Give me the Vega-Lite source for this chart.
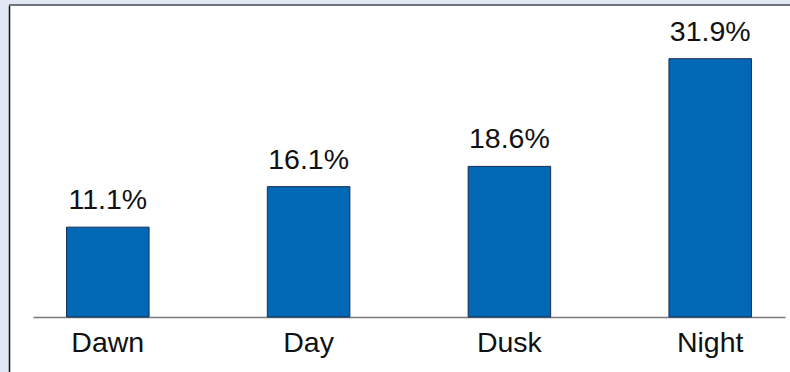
{
  "$schema": "https://vega.github.io/schema/vega-lite/v6.json",
  "autosize": "none",
  "width": 781,
  "height": 367,
  "padding": {"left": 9, "top": 5, "right": 0, "bottom": 0},
  "background": "#e1e7f3",
  "config": {
    "view": {"fill": "white", "stroke": null},
    "font": "Liberation Sans"
  },
  "data": {
    "values": [
      {"period": "Dawn", "share": 11.1},
      {"period": "Day", "share": 16.1},
      {"period": "Dusk", "share": 18.6},
      {"period": "Night", "share": 31.9}
    ]
  },
  "transform": [
    {"calculate": "format(datum.share, '.1f') + '%'", "as": "label"}
  ],
  "encoding": {
    "x": {
      "field": "period",
      "type": "nominal",
      "sort": null,
      "scale": {"range": [24, 776], "paddingInner": 0.589, "paddingOuter": 0.167},
      "axis": {
        "title": null,
        "orient": "bottom",
        "offset": -55,
        "ticks": false,
        "domainColor": "#7a7a7a",
        "domainWidth": 1.5,
        "labelFontSize": 28.5,
        "labelColor": "#111111",
        "labelPadding": 11,
        "labelAngle": 0
      }
    },
    "y": {
      "field": "share",
      "type": "quantitative",
      "scale": {"domain": [-6.79, 38.53], "nice": false, "zero": false},
      "axis": {
        "title": null,
        "labels": false,
        "ticks": false,
        "grid": false,
        "domainColor": "#111111",
        "domainWidth": 1.5
      }
    }
  },
  "layer": [
    {
      "mark": {"type": "rule", "color": "#737380", "strokeWidth": 2},
      "encoding": {"x": {"value": 0}, "x2": {"value": 781}, "y": {"datum": 38.53}}
    },
    {
      "mark": {"type": "bar", "color": "#0068b4", "stroke": "#1a2c55", "strokeWidth": 1},
      "encoding": {"y2": {"datum": 0}}
    },
    {
      "mark": {"type": "text", "baseline": "alphabetic", "dy": -18, "fontSize": 28.5, "color": "#111111"},
      "encoding": {"text": {"field": "label", "type": "nominal"}}
    }
  ]
}
